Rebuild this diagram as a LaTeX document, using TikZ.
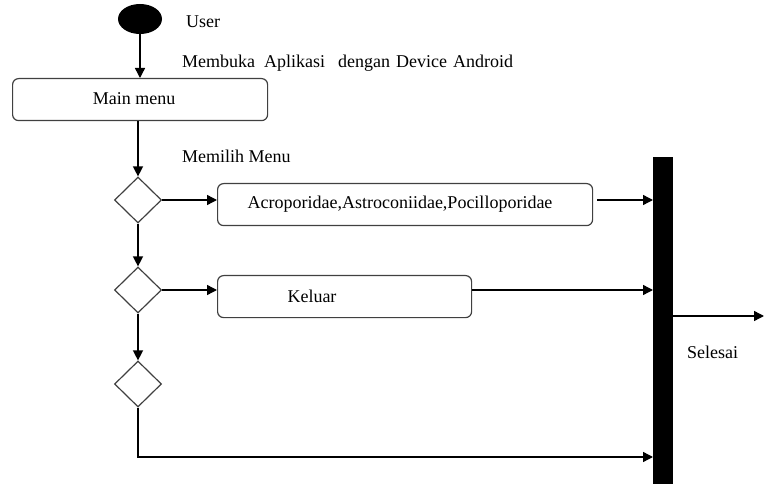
\documentclass[tikz,border=0pt]{standalone}
\usepackage{fontspec}
\setmainfont{Liberation Serif}
\usetikzlibrary{arrows.meta,shapes.geometric}
\begin{document}
\begin{tikzpicture}[x=1pt,y=-1pt,
  every node/.style={font=\fontsize{18}{20}\selectfont},
  flow/.style={line width=1.4pt, -{Triangle[length=10pt,width=10pt]}},
  link/.style={line width=1.4pt},
  act/.style={draw=black!75, line width=1.2pt, rounded corners=6pt, inner sep=0pt, anchor=north west},
  choice/.style={diamond, draw=black!75, line width=1.2pt, minimum width=47pt, minimum height=46pt, inner sep=0pt},
  lbl/.style={anchor=base west, inner sep=0pt}]
\useasboundingbox (0,0) rectangle (764,484);

% initial state and captions
\node[ellipse, fill=black, minimum width=44pt, minimum height=30pt, inner sep=0pt] (start) at (140,19) {};
\node[lbl] (user) at (186,28) {User};
\node[lbl] (open) at (182,68) {Membuka\hspace{9pt}Aplikasi\hspace{13pt}dengan\hspace{6pt}Device\hspace{6pt}Android};

% main menu activity
\node[act, minimum width=255pt, minimum height=42pt] (main) at (12,78) {};
\node (maintxt) at (134,99) {Main menu};
\node[lbl] (pick) at (182,163) {Memilih Menu};

% decisions
\node[choice] (d1) at (138,200) {};
\node[choice] (d2) at (138,290) {};
\node[choice] (d3) at (138,384) {};

% activities
\node[act, minimum width=375pt, minimum height=42pt] (coral) at (217,183) {};
\node (coraltxt) at (400,204) {Acroporidae,Astroconiidae,Pocilloporidae};
\node[act, minimum width=254pt, minimum height=42pt] (quit) at (217,275) {};
\node (quittxt) at (312,296) {Keluar};

% synchronisation bar
\fill (653,157) rectangle (673,490);
\coordinate (barL1) at (653,200);
\coordinate (barL2) at (653,290);
\coordinate (barL3) at (653,457);
\coordinate (barR) at (673,316);
\coordinate (endpt) at (764,316);
\coordinate (corner) at (138,457);
\node[lbl] (done) at (687,358) {Selesai};

% control flow
\draw[flow] (start.south) -- (main.north -| start.south);
\draw[flow] (main.south -| d1.north) -- (d1.north);
\draw[flow] (d1.south) -- (d2.north);
\draw[flow] (d2.south) -- (d3.north);
\draw[flow] (d1.east) -- (d1.east -| coral.west);
\draw[flow] (d2.east) -- (d2.east -| quit.west);
\draw[flow] (coral.east |- barL1) ++(4,0) -- (barL1);
\draw[flow] (quit.east |- barL2) -- (barL2);
\draw[flow] (d3.south) -- (corner) -- (barL3);
\draw[flow] (barR) -- (endpt);
\end{tikzpicture}
\end{document}
